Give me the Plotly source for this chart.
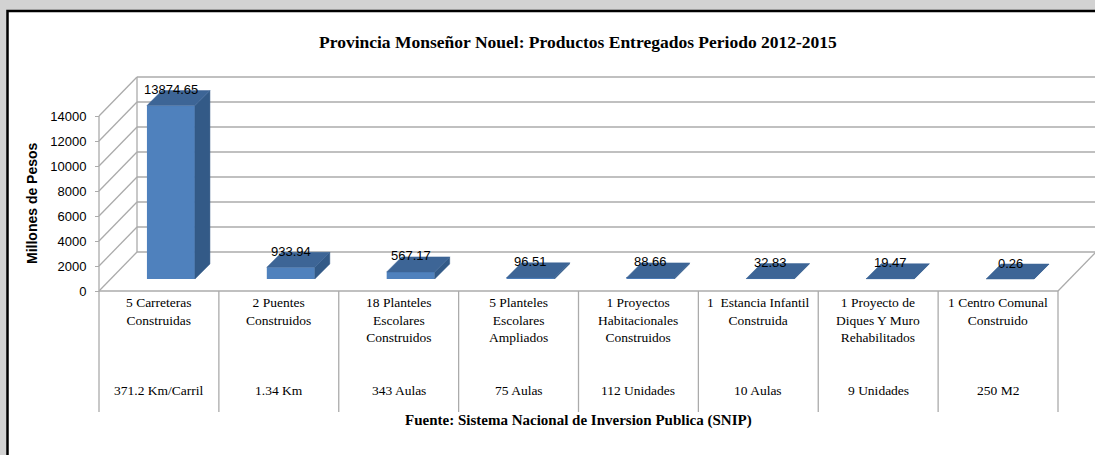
import plotly.graph_objects as go

# ---------------- data ----------------
categories = [
    "5 Carreteras<br>Construidas",
    "2 Puentes<br>Construidos",
    "18 Planteles<br>Escolares<br>Construidos",
    "5 Planteles<br>Escolares<br>Ampliados",
    "1 Proyectos<br>Habitacionales<br>Construidos",
    "1\u00a0 Estancia Infantil<br>Construida",
    "1 Proyecto de<br>Diques Y Muro<br>Rehabilitados",
    "1 Centro Comunal<br>Construido",
]
units = ["371.2 Km/Carril", "1.34 Km", "343 Aulas", "75 Aulas",
         "112 Unidades", "10 Aulas", "9 Unidades", "250 M2"]
values = [13874.65, 933.94, 567.17, 96.51, 88.66, 32.83, 19.47, 0.26]
value_labels = ["13874.65", "933.94", "567.17", "96.51", "88.66", "32.83", "19.47", "0.26"]
y_ticks = [0, 2000, 4000, 6000, 8000, 10000, 12000, 14000]
y_tick_labels = [str(t) for t in y_ticks]

title = "Provincia Monseñor Nouel: Productos Entregados Periodo 2012-2015"
y_title = "Millones de Pesos"
source = "Fuente: Sistema Nacional de Inversion Publica (SNIP)"

# ---------------- geometry (pixels -> axis units) ----------------
W, H = 1095, 455
PX_PER_CAT = 119.875
PX_PER_UNIT = 0.0125
X0PX, Y0PX = 99, 291


def ux(px):
    return px / PX_PER_CAT


def uy(px):
    return px / PX_PER_UNIT


n = len(values)
xr = [-0.5 - ux(X0PX), -0.5 + ux(W - X0PX)]
yr = [-uy(H - Y0PX), uy(Y0PX)]

DX, DY = ux(38), uy(39)      # wall depth
FX, FY = ux(12), uy(12)      # bar front offset
BX, BY = ux(15), uy(15)      # bar depth
BW = ux(48)                  # bar width

GRID = "#ababab"
FONT_SANS = "Liberation Sans, Arial, sans-serif"
FONT_SERIF = "Liberation Serif, Times New Roman, serif"

fig = go.Figure()

# front faces
fig.add_trace(go.Bar(
    x=[i + FX for i in range(n)], y=values, base=FY, width=BW,
    marker=dict(color="#4f81bd", line=dict(width=0)),
    hoverinfo="skip", showlegend=False,
))

# top and side faces
top_x, top_y, side_x, side_y = [], [], [], []
for i, v in enumerate(values):
    xl = i + FX - BW / 2
    xrr = i + FX + BW / 2
    yt = v + FY
    top_x += [xl, xrr, xrr + BX, xl + BX, xl, None]
    top_y += [yt, yt, yt + BY, yt + BY, yt, None]
    side_x += [xrr, xrr, xrr + BX, xrr + BX, xrr, None]
    side_y += [FY, yt, yt + BY, FY + BY, FY, None]

fig.add_trace(go.Scatter(x=side_x, y=side_y, mode="lines", fill="toself",
                         fillcolor="#335a87", line=dict(color="#335a87", width=0.5),
                         hoverinfo="skip", showlegend=False))
fig.add_trace(go.Scatter(x=top_x, y=top_y, mode="lines", fill="toself",
                         fillcolor="#3d6596", line=dict(color="#3d6596", width=0.5),
                         hoverinfo="skip", showlegend=False))

# ---------------- shapes ----------------
shapes = []
# white chart area with black frame
shapes.append(dict(type="rect", xref="paper", yref="paper",
                   x0=7.5 / W, x1=1.05, y0=-0.05, y1=1 - 11 / H,
                   fillcolor="white", line=dict(color="black", width=2.5), layer="below"))

left = -0.5
right = n - 0.5
for t in y_ticks:
    # back wall
    shapes.append(dict(type="line", xref="x", yref="y", x0=left + DX, x1=right + DX + 0.2,
                       y0=t + DY, y1=t + DY, line=dict(color=GRID, width=1.3), layer="below"))
    # side wall
    shapes.append(dict(type="line", xref="x", yref="y", x0=left, x1=left + DX,
                       y0=t, y1=t + DY, line=dict(color=GRID, width=1.3), layer="below"))
# back-left vertical edge
shapes.append(dict(type="line", xref="x", yref="y", x0=left + DX, x1=left + DX,
                   y0=DY, y1=y_ticks[-1] + DY, line=dict(color=GRID, width=1.3), layer="below"))
# front vertical axis
shapes.append(dict(type="line", xref="x", yref="y", x0=left, x1=left,
                   y0=0, y1=y_ticks[-1], line=dict(color=GRID, width=1.3), layer="below"))
# floor front and right edges
shapes.append(dict(type="line", xref="x", yref="y", x0=left, x1=right,
                   y0=0, y1=0, line=dict(color=GRID, width=1.3), layer="below"))
shapes.append(dict(type="line", xref="x", yref="y", x0=right, x1=right + DX,
                   y0=0, y1=DY, line=dict(color=GRID, width=1.3), layer="below"))
# category table separators
for k in range(n + 1):
    shapes.append(dict(type="line", xref="x", yref="y", x0=left + k, x1=left + k,
                       y0=0, y1=-uy(412 - Y0PX), line=dict(color=GRID, width=1.3), layer="below"))

# ---------------- annotations ----------------
ann = []
for i, (v, lab) in enumerate(zip(values, value_labels)):
    ann.append(dict(x=i + FX, y=v + FY + BY, xref="x", yref="y", text=lab,
                    showarrow=False, yanchor="middle", yshift=1,
                    font=dict(family=FONT_SANS, size=13, color="black")))
for i, (c, u) in enumerate(zip(categories, units)):
    ann.append(dict(x=i, y=-uy(293 - Y0PX), xref="x", yref="y", text=c,
                    showarrow=False, yanchor="top", align="center",
                    font=dict(family=FONT_SERIF, size=13.5, color="black")))
    ann.append(dict(x=i, y=-uy(390 - Y0PX), xref="x", yref="y", text=u,
                    showarrow=False, yanchor="middle", align="center",
                    font=dict(family=FONT_SERIF, size=13.5, color="black")))

ann.append(dict(x=578 / W, y=1 - 42 / H, xref="paper", yref="paper", text="<b>" + title + "</b>",
                showarrow=False, xanchor="center", yanchor="middle",
                font=dict(family=FONT_SERIF, size=17.5, color="black")))
ann.append(dict(x=578 / W, y=1 - 420 / H, xref="paper", yref="paper", text="<b>" + source + "</b>",
                showarrow=False, xanchor="center", yanchor="middle",
                font=dict(family=FONT_SERIF, size=15, color="black")))
ann.append(dict(x=32 / W, y=uy(Y0PX - 203), xref="paper", yref="y", text="<b>" + y_title + "</b>",
                showarrow=False, textangle=-90, xanchor="center", yanchor="middle",
                font=dict(family=FONT_SANS, size=14, color="black")))

fig.update_layout(
    width=W, height=H,
    margin=dict(l=0, r=0, t=0, b=0),
    paper_bgcolor="#d2d2d2",
    plot_bgcolor="rgba(0,0,0,0)",
    showlegend=False,
    xaxis=dict(range=xr, domain=[0, 1], visible=False, fixedrange=True),
    yaxis=dict(range=yr, domain=[0, 1], anchor="free", position=X0PX / W,
               tickvals=y_ticks, ticktext=y_tick_labels, ticks="outside", ticklen=4,
               tickcolor=GRID, showgrid=False, zeroline=False, showline=False,
               ticklabelstandoff=6,
               tickfont=dict(family=FONT_SANS, size=13, color="black"), fixedrange=True),
    shapes=shapes,
    annotations=ann,
)

fig.write_html("out.html", config={"displayModeBar": False},
               post_script="document.body.style.margin='0';")
